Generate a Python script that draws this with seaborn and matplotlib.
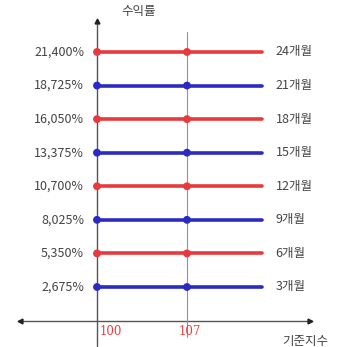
import matplotlib
matplotlib.use("Agg")
import matplotlib.pyplot as plt
import seaborn as sns
import pandas as pd

sns.set_theme(style="white")
plt.rcParams['font.family'] = ['Noto Sans CJK KR', 'DejaVu Sans']

months = ["3개월", "6개월", "9개월", "12개월", "15개월", "18개월", "21개월", "24개월"]
yields = [2.675, 5.350, 8.025, 10.700, 13.375, 16.050, 18.725, 21.400]
yield_labels = ["2,675%", "5,350%", "8,025%", "10,700%", "13,375%", "16,050%", "18,725%", "21,400%"]
line_start = 100
line_end = 112.8
point_x = [100, 107]
x_ticks = [100, 107]
x_tick_labels = ["100", "107"]
y_title = "수익률"
x_title = "기준지수"

RED = "#e83a3c"
BLUE = "#2b2bc4"
colors = [BLUE if i % 2 == 0 else RED for i in range(len(months))]
palette = dict(zip(months, colors))

rows = []
for m, y in zip(months, yields):
    rows.append({"month": m, "x": line_start, "y": y})
    rows.append({"month": m, "x": line_end, "y": y})
lines_df = pd.DataFrame(rows)
pts_df = pd.DataFrame([{"month": m, "x": px, "y": y} for m, y in zip(months, yields) for px in point_x])

fig = plt.figure(figsize=(3.40, 3.47), dpi=100)
ax = fig.add_axes([0, 0, 1, 1])
ax.set_xlim(92.456, 118.9)
ax.set_ylim(-2.106, 25.54)
ax.axis("off")

# axes lines
ax.plot([100, 100], [-2.0, 23.9], color="#555555", lw=1.0, zorder=1)
ax.plot([100], [23.9], marker="^", color="#222222", ms=3.5, zorder=1)
ax.plot([94.0, 116.6], [0, 0], color="#555555", lw=1.0, zorder=1)
ax.plot([94.0], [0], marker="<", color="#222222", ms=3.5, zorder=1)
ax.plot([116.6], [0], marker=">", color="#222222", ms=3.5, zorder=1)
ax.plot([107, 107], [-1.3, 23.0], color="#8a9a8a", lw=0.8, zorder=1)

sns.lineplot(data=lines_df, x="x", y="y", hue="month", palette=palette,
             units="month", estimator=None, lw=2.6, legend=False, ax=ax, zorder=2)
sns.scatterplot(data=pts_df, x="x", y="y", hue="month", palette=palette,
                s=32, linewidth=0, legend=False, ax=ax, zorder=3)
ax.axis("off")

for y, lab, m in zip(yields, yield_labels, months):
    ax.text(99.0, y, lab, ha="right", va="center", fontsize=9, color="#444444")
    ax.text(113.9, y, m, ha="left", va="center", fontsize=9, color="#444444")

for xt, lab in zip(x_ticks, x_tick_labels):
    ax.text(xt + 0.2, -0.9, lab, ha="left" if xt == 100 else "center", va="center",
            fontsize=8.5, color=RED, family="DejaVu Serif")

ax.text(103.2, 24.6, y_title, ha="center", va="center", fontsize=9, color="#444444")
ax.text(116.2, -1.7, x_title, ha="center", va="center", fontsize=9, color="#444444")

fig.savefig("out.png", dpi=100)
